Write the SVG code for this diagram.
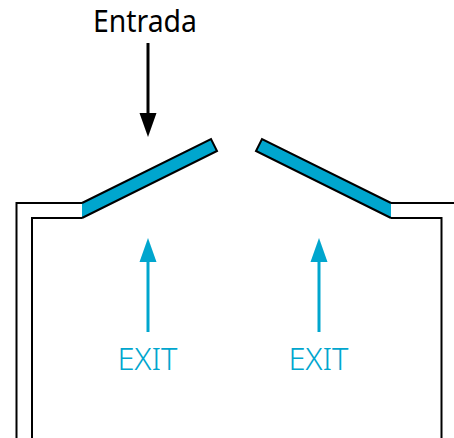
<svg xmlns="http://www.w3.org/2000/svg" width="454" height="438" viewBox="0 0 454 438">
<style>
.wall{fill:none;stroke:#000;stroke-width:2}
.flap{fill:#00a6ce;stroke:none}
.edge{fill:none;stroke:#000;stroke-width:2;stroke-linejoin:miter}
.lbl{font-family:"Noto Sans","Open Sans",sans-serif;font-size:31px;text-anchor:middle;font-weight:400}
.exit{fill:#00a6ce;font-weight:300}
.ar{stroke-width:3;fill:none}
</style>
<rect width="454" height="438" fill="#fff"/>
<g id="walls">
<path class="wall" d="M82 203H16.500V438M82 218H32V438"/>
<path class="wall" d="M391 203H454M391 218H441.500V438"/>
</g>
<g id="flap-left">
<path class="flap" d="M82 203L211 139L217 151L82 218Z"/>
<path class="edge" d="M82 203L211 139L217 151L82 218"/>
</g>
<g id="flap-right">
<path class="flap" d="M391 203L262 139L256 151L391 218Z"/>
<path class="edge" d="M391 203L262 139L256 151L391 218"/>
</g>
<g id="connectors">
<path class="ar" stroke="#000" d="M148 43V120"/>
<path d="M139.500 113H156.500L148 137Z" fill="#000"/>
<path class="ar" stroke="#00a6ce" d="M148 332V258"/>
<path d="M139.500 262H156.500L148 238Z" fill="#00a6ce"/>
<path class="ar" stroke="#00a6ce" d="M319 332V258"/>
<path d="M310.500 262H327.500L319 238Z" fill="#00a6ce"/>
</g>
<g id="label-entrada"><text class="lbl" x="145" y="32" textLength="104" lengthAdjust="spacingAndGlyphs">Entrada</text></g>
<g id="label-exit-1"><text class="lbl exit" x="147.500" y="369.500" textLength="60" lengthAdjust="spacingAndGlyphs">EXIT</text></g>
<g id="label-exit-2"><text class="lbl exit" x="318.500" y="369.500" textLength="60" lengthAdjust="spacingAndGlyphs">EXIT</text></g>
</svg>
